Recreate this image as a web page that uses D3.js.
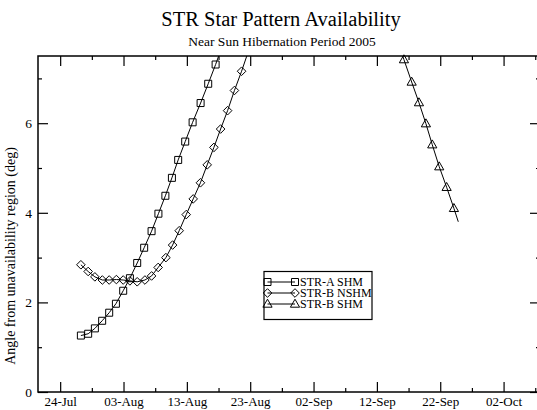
<!DOCTYPE html>
<html>
<head>
<meta charset="utf-8">
<script src="https://cdn.jsdelivr.net/npm/d3@7"></script>
<style>
  body { margin: 0; background: #fff; }
  text { font-family: "Liberation Serif", "DejaVu Serif", serif; fill: #000; }
</style>
</head>
<body>
<svg id="chart" width="537" height="410"></svg>
<script>
// days after 24-Jul-2005 and angle (deg)
var strA_t = [3.27, 4.42, 5.48, 6.63, 7.74, 8.80, 9.95, 11.01, 12.16, 13.26, 14.43, 15.51, 16.61, 17.64, 18.63, 19.74, 20.91, 22.17, 23.37, 24.54];
var strA_v = [1.26, 1.30, 1.42, 1.59, 1.77, 1.97, 2.26, 2.54, 2.88, 3.22, 3.59, 3.98, 4.38, 4.78, 5.18, 5.59, 6.02, 6.45, 6.88, 7.31];
var strA_tail = [[25.65, 7.75]];

var strBn_t = [3.27, 4.42, 5.48, 6.66, 7.74, 8.87, 9.95, 11.01, 12.16, 13.38, 14.43, 15.47, 16.69, 17.75, 18.79, 19.90, 21.00, 22.14, 23.21, 24.27, 25.33, 26.43, 27.51, 28.64];
var strBn_v = [2.84, 2.69, 2.57, 2.50, 2.50, 2.51, 2.50, 2.48, 2.46, 2.50, 2.59, 2.78, 3.00, 3.28, 3.60, 3.96, 4.31, 4.67, 5.07, 5.46, 5.87, 6.28, 6.73, 7.16];
var strBn_tail = [[29.75, 7.62]];

var strBs_t = [54.27, 55.49, 56.64, 57.74, 58.74, 59.84, 61.01, 62.16];
var strBs_v = [7.42, 6.92, 6.46, 5.99, 5.52, 5.03, 4.57, 4.10];
var strBs_head = [[53.10, 7.90]];
var strBs_tail = [[62.85, 3.80]];

var seriesNames = ["STR-A SHM", "STR-B NSHM", "STR-B SHM"];
var xTickLabels = ["24-Jul", "03-Aug", "13-Aug", "23-Aug", "02-Sep", "12-Sep", "22-Sep", "02-Oct"];
var yTicks = [0, 2, 4, 6];

var base = new Date(2005, 6, 24);
function day(t) { return new Date(base.getTime() + t * 864e5); }

var svg = d3.select("#chart"),
    margin = {top: 56, right: -3, bottom: 18, left: 38},
    width = +svg.attr("width") - margin.left - margin.right,
    height = +svg.attr("height") - margin.top - margin.bottom,
    g = svg.append("g").attr("transform", "translate(" + margin.left + "," + margin.top + ")");

var x = d3.scaleTime()
    .domain([day(-3.5), day(75.75)])
    .range([0, width]);

var y = d3.scaleLinear()
    .domain([0, 7.5])
    .range([height, 0]);

var majorX = xTickLabels.map(function(d, i) { return day(i * 10); });
var minorX = xTickLabels.map(function(d, i) { return day(i * 10 + 5); });
var minorY = yTicks.map(function(d) { return d + 1; });

/* titel */
svg.append("text")
    .attr("x", 281).attr("y", 26)
    .attr("text-anchor", "middle")
    .attr("font-size", 20.5)
    .text("STR Star Pattern Availability");
svg.append("text")
    .attr("x", 282).attr("y", 46)
    .attr("text-anchor", "middle")
    .attr("font-size", 13.5)
    .text("Near Sun Hibernation Period 2005");

/* assen: ticks naar binnen */
function tickAxis(axis, vals, size) {
  return axis.tickValues(vals).tickSizeInner(size).tickSizeOuter(0).tickFormat("");
}
function styleAxis(sel) {
  sel.select(".domain").remove();
  sel.selectAll("line").attr("stroke", "#000").attr("stroke-width", 1.2);
}

g.append("g").attr("transform", "translate(0," + height + ")")
    .call(tickAxis(d3.axisTop(x), majorX, 10)).call(styleAxis);
g.append("g").attr("transform", "translate(0," + height + ")")
    .call(tickAxis(d3.axisTop(x), minorX, 4)).call(styleAxis);
g.append("g").call(tickAxis(d3.axisBottom(x), majorX, 10)).call(styleAxis);
g.append("g").call(tickAxis(d3.axisBottom(x), minorX, 4)).call(styleAxis);

g.append("g").call(tickAxis(d3.axisRight(y), yTicks, 10)).call(styleAxis);
g.append("g").call(tickAxis(d3.axisRight(y), minorY, 4)).call(styleAxis);
g.append("g").attr("transform", "translate(" + width + ",0)")
    .call(tickAxis(d3.axisLeft(y), yTicks, 10)).call(styleAxis);
g.append("g").attr("transform", "translate(" + width + ",0)")
    .call(tickAxis(d3.axisLeft(y), minorY, 4)).call(styleAxis);

/* labels */
var xl = g.append("g").attr("transform", "translate(0," + height + ")")
    .call(d3.axisBottom(x).tickValues(majorX).tickSize(0).tickPadding(4.5)
      .tickFormat(function(d, i) { return xTickLabels[i]; }));
xl.select(".domain").remove();
xl.selectAll("text").attr("font-size", 13).attr("font-family", "Liberation Serif").attr("fill", "#000");

var yl = g.append("g")
    .call(d3.axisLeft(y).tickValues(yTicks).tickSize(0).tickPadding(6));
yl.select(".domain").remove();
yl.selectAll("text").attr("font-size", 13.5).attr("font-family", "Liberation Serif").attr("fill", "#000");

svg.append("text")
    .attr("transform", "translate(15,256) rotate(-90)")
    .attr("text-anchor", "middle")
    .attr("font-size", 14)
    .text("Angle from unavailability region (deg)");

/* frame */
g.append("rect")
    .attr("width", width).attr("height", height)
    .attr("fill", "none").attr("stroke", "#000").attr("stroke-width", 1.5);

/* data */
function pts(ts, vs) { return ts.map(function(t, i) { return [t, vs[i]]; }); }
var series = [
  {name: seriesNames[0], sym: "square", marks: pts(strA_t, strA_v), line: pts(strA_t, strA_v).concat(strA_tail)},
  {name: seriesNames[1], sym: "diamond", marks: pts(strBn_t, strBn_v), line: pts(strBn_t, strBn_v).concat(strBn_tail)},
  {name: seriesNames[2], sym: "triangle", marks: pts(strBs_t, strBs_v), line: strBs_head.concat(pts(strBs_t, strBs_v), strBs_tail)}
];

svg.append("clipPath").attr("id", "clip")
  .append("rect").attr("x", margin.left).attr("y", margin.top).attr("width", width).attr("height", height);

var line = d3.line()
    .x(function(d) { return x(day(d[0])); })
    .y(function(d) { return y(d[1]); });

var symbols = {
  square: "M-3.5,-3.5H3.5V3.5H-3.5Z",
  diamond: "M0,-4.3L4.3,0L0,4.3L-4.3,0Z",
  triangle: "M0,-4.8L4.6,3.2H-4.6Z"
};

var plot = svg.append("g").attr("clip-path", "url(#clip)")
    .append("g").attr("transform", "translate(" + margin.left + "," + margin.top + ")");

series.forEach(function(s) {
  plot.append("path")
      .attr("d", line(s.line))
      .attr("fill", "none").attr("stroke", "#000").attr("stroke-width", 1);
  g.selectAll(null)
    .data(s.marks)
    .enter().append("path")
      .attr("transform", function(d) { return "translate(" + x(day(d[0])) + "," + y(d[1]) + ")"; })
      .attr("d", symbols[s.sym])
      .attr("fill", "none").attr("stroke", "#000").attr("stroke-width", 1);
});

/* legenda */
var legend = svg.append("g").attr("transform", "translate(264,271.5)");
legend.append("rect")
    .attr("width", 108).attr("height", 48)
    .attr("fill", "#fff").attr("stroke", "#000").attr("stroke-width", 1.2);
var row = legend.selectAll("g.row")
    .data(series)
    .enter().append("g")
      .attr("class", "row")
      .attr("transform", function(d, i) { return "translate(0," + [10.5, 21.5, 32.5][i] + ")"; });
row.append("line")
    .attr("x1", 3.5).attr("x2", 31)
    .attr("stroke", "#000");
row.append("path").attr("transform", "translate(3.5,0)").attr("d", function(d) { return symbols[d.sym]; })
    .attr("fill", "none").attr("stroke", "#000");
row.append("path").attr("transform", "translate(31,0)").attr("d", function(d) { return symbols[d.sym]; })
    .attr("fill", "none").attr("stroke", "#000");
row.append("text")
    .attr("x", 36).attr("dy", "0.35em")
    .attr("font-size", 12)
    .text(function(d) { return d.name; });
</script>
</body>
</html>
